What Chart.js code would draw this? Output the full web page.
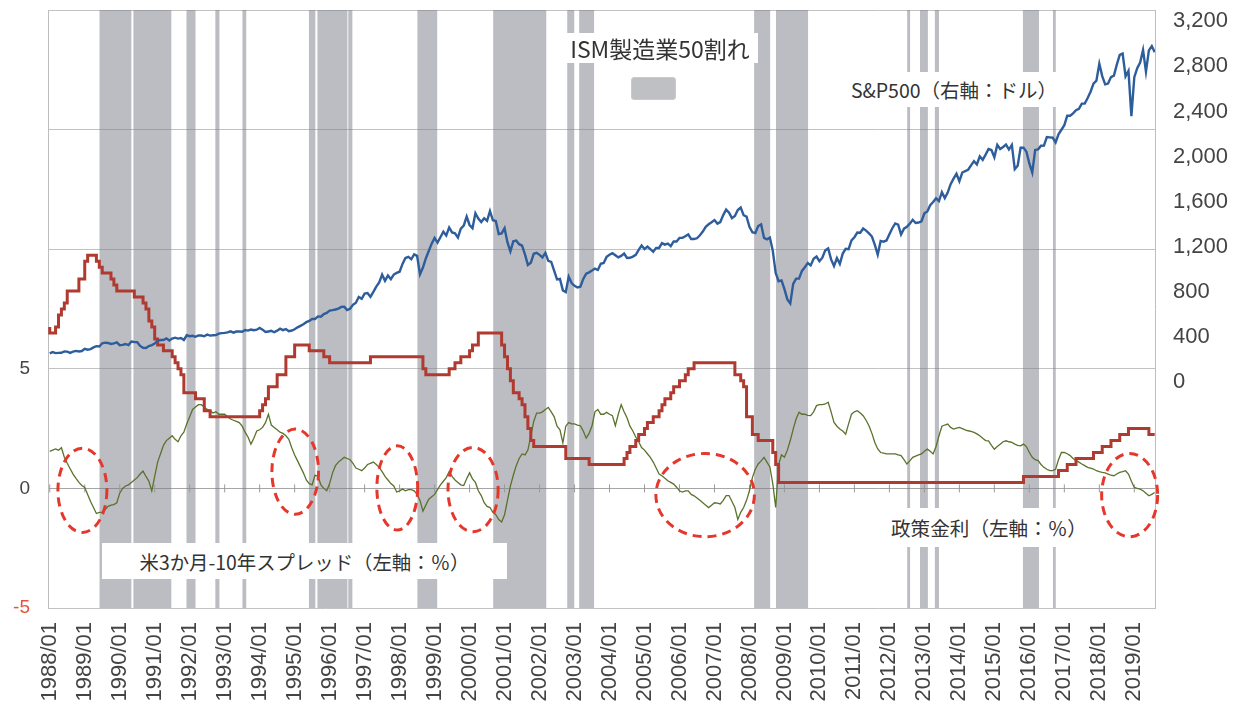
<!DOCTYPE html>
<html><head><meta charset="utf-8">
<script src="https://cdn.jsdelivr.net/npm/chart.js@4.4.1/dist/chart.umd.min.js"></script>
<style>
html,body{margin:0;padding:0;background:#fff;}
#wrap{position:relative;width:1239px;height:712px;overflow:hidden;}
#c{position:absolute;left:0;top:0;}
.lbl{position:absolute;background:#fff;display:flex;align-items:center;justify-content:center;font-family:"Noto Sans CJK JP","Noto Sans",sans-serif;color:#333;white-space:nowrap;}
#sw{position:absolute;left:631px;top:77px;width:43px;height:21px;background:#bfc0c4;border:1px solid #c9cace;border-radius:3px;}
</style></head>
<body>
<div id="wrap">
<canvas id="c" width="1239" height="712"></canvas>
<div class="lbl" style="left:562px;top:33px;width:196px;height:30px;font-size:23px;">ISM製造業50割れ</div>
<div id="sw"></div>
<div class="lbl" style="left:848px;top:72px;width:212px;height:35px;font-size:19.5px;">S&amp;P500（右軸：ドル）</div>
<div class="lbl" style="left:102px;top:543px;width:405px;height:36px;font-size:19.4px;">米3か月-10年スプレッド（左軸：％）</div>
<div class="lbl" style="left:880px;top:508px;width:218px;height:39px;font-size:19.6px;">政策金利（左軸：％）</div>
</div>
<script>
// ---- tick labels ----
const yearLabels = ["1988/01","1989/01","1990/01","1991/01","1992/01","1993/01","1994/01","1995/01","1996/01","1997/01","1998/01","1999/01","2000/01","2001/01","2002/01","2003/01","2004/01","2005/01","2006/01","2007/01","2008/01","2009/01","2010/01","2011/01","2012/01","2013/01","2014/01","2015/01","2016/01","2017/01","2018/01","2019/01"];
const yearTickMonths = [0,12,24,36,48,60,72,84,96,108,120,132,144,156,168,180,192,204,216,228,240,252,264,276,288,300,312,324,336,348,360,372];
const leftTickValues = [-5,0,5,10,15,20];
const leftTickLabels = ["-5","0","5","","",""];
const rightTickValues = [-2000,-1600,-1200,-800,-400,0,400,800,1200,1600,2000,2400,2800,3200];
const rightTickLabels = ["","","","","","0","400","800","1,200","1,600","2,000","2,400","2,800","3,200"];

// ---- S&P500 (monthly, USD, right axis), 1988/01 .. 2019/08 ----
const spx = [
257.07,267.82,258.89,261.33,262.16,273.50,272.02,261.52,271.91,278.97,273.70,277.72,
297.47,288.86,294.87,309.64,320.52,317.98,346.08,351.45,349.15,340.36,345.99,353.40,
329.08,331.89,339.94,330.80,361.23,358.02,356.15,322.56,306.05,304.00,322.22,330.22,
343.93,367.07,375.22,375.34,389.83,371.16,387.81,395.43,387.86,392.46,375.22,417.09,
408.79,412.70,403.69,414.95,415.35,408.14,424.21,414.03,417.80,418.68,431.35,435.71,
438.78,443.38,451.67,440.19,450.19,450.53,448.13,463.56,458.93,467.83,461.79,466.45,
481.61,467.14,445.77,450.91,456.50,444.27,458.26,475.49,462.69,472.35,453.69,459.27,
470.42,487.39,500.71,514.71,533.40,544.75,562.06,561.88,584.41,581.50,605.37,615.93,
636.02,640.43,645.50,654.17,669.12,670.63,639.95,651.99,687.31,705.27,757.02,740.74,
786.16,790.82,757.12,801.34,848.28,885.14,954.29,899.47,947.28,914.62,955.40,970.43,
980.28,1049.34,1101.75,1111.75,1090.82,1133.84,1120.67,957.28,1017.01,1098.67,1163.63,1229.23,
1279.64,1238.33,1286.37,1335.18,1301.84,1372.71,1328.72,1320.41,1282.71,1362.93,1388.91,1469.25,
1394.46,1366.42,1498.58,1452.43,1420.60,1454.60,1430.83,1517.68,1436.51,1429.40,1314.95,1320.28,
1366.01,1239.94,1160.33,1249.46,1255.82,1224.42,1211.23,1133.58,1040.94,1059.78,1139.45,1148.08,
1130.20,1106.73,1147.39,1076.92,1067.14,989.82,911.62,916.07,815.28,800.00,936.31,879.82,
855.70,841.15,848.18,916.92,963.59,974.50,990.31,1008.01,995.97,1050.71,1058.20,1111.92,
1131.13,1144.94,1126.21,1107.30,1120.68,1140.84,1101.72,1104.24,1114.58,1130.20,1173.82,1211.92,
1181.27,1203.60,1180.59,1156.85,1191.50,1191.33,1234.18,1220.33,1228.81,1207.01,1249.48,1248.29,
1280.08,1280.66,1294.87,1310.61,1270.09,1270.20,1276.66,1303.82,1335.85,1377.94,1400.63,1418.30,
1438.24,1406.82,1420.86,1482.37,1530.62,1503.35,1455.27,1473.99,1526.75,1549.38,1481.14,1468.36,
1378.55,1330.63,1322.70,1385.59,1400.38,1280.00,1267.38,1282.83,1166.36,968.75,896.24,903.25,
825.88,735.09,700.00,872.81,919.14,919.32,987.48,1020.62,1057.08,1036.19,1095.63,1115.10,
1073.87,1104.49,1169.43,1186.69,1089.41,1030.71,1101.60,1049.33,1141.20,1183.26,1180.55,1257.64,
1286.12,1327.22,1325.83,1363.61,1345.20,1320.64,1292.28,1218.89,1131.42,1253.30,1246.96,1257.60,
1312.41,1365.68,1408.47,1397.91,1310.33,1362.16,1379.32,1406.58,1440.67,1412.16,1416.18,1426.19,
1498.11,1514.68,1569.19,1597.57,1630.74,1606.28,1685.73,1632.97,1681.55,1756.54,1805.81,1848.36,
1782.59,1859.45,1872.34,1883.95,1923.57,1960.23,1930.67,2003.37,1972.29,2018.05,2067.56,2058.90,
1994.99,2104.50,2067.89,2085.51,2107.39,2063.11,2103.84,1890.00,1920.03,2079.36,2080.41,2043.94,
1940.24,1860.00,2059.74,2065.30,2096.95,2098.86,2173.60,2170.95,2168.27,2126.15,2198.81,2238.83,
2278.87,2363.64,2362.72,2384.20,2411.80,2423.41,2470.30,2471.65,2519.36,2575.26,2647.58,2673.61,
2823.81,2713.83,2640.87,2648.05,2705.27,2718.37,2816.29,2901.52,2913.98,2711.74,2760.17,2360.00,
2704.10,2784.49,2834.40,2945.83,2752.06,2941.76,2980.38,2926.46
];

// ---- US policy rate (%, left axis) ----
const fedRate = [
6.75,6.5,6.5,6.75,7.25,7.5,7.75,8.25,8.25,8.25,8.25,8.75,
8.75,9.5,9.75,9.75,9.75,9.5,9.25,9.0,9.0,9.0,8.75,8.5,
8.25,8.25,8.25,8.25,8.25,8.25,8.0,8.0,8.0,7.75,7.5,7.0,
6.75,6.25,6.0,6.0,5.75,5.75,5.75,5.5,5.25,5.0,4.75,4.0,
4.0,4.0,4.0,3.75,3.75,3.75,3.25,3.25,3.0,3.0,3.0,3.0,
3.0,3.0,3.0,3.0,3.0,3.0,3.0,3.0,3.0,3.0,3.0,3.0,
3.0,3.25,3.5,3.75,4.25,4.25,4.25,4.75,4.75,4.75,5.5,5.5,
5.5,6.0,6.0,6.0,6.0,6.0,5.75,5.75,5.75,5.75,5.75,5.5,
5.5,5.25,5.25,5.25,5.25,5.25,5.25,5.25,5.25,5.25,5.25,5.25,
5.25,5.25,5.25,5.5,5.5,5.5,5.5,5.5,5.5,5.5,5.5,5.5,
5.5,5.5,5.5,5.5,5.5,5.5,5.5,5.5,5.5,5.0,4.75,4.75,
4.75,4.75,4.75,4.75,4.75,4.75,5.0,5.0,5.25,5.25,5.5,5.5,
5.5,5.75,6.0,6.0,6.5,6.5,6.5,6.5,6.5,6.5,6.5,6.5,
6.0,5.5,5.0,4.5,4.0,4.0,3.75,3.5,3.0,2.5,2.0,1.75,
1.75,1.75,1.75,1.75,1.75,1.75,1.75,1.75,1.75,1.75,1.25,1.25,
1.25,1.25,1.25,1.25,1.25,1.25,1.0,1.0,1.0,1.0,1.0,1.0,
1.0,1.0,1.0,1.0,1.0,1.0,1.25,1.5,1.75,1.75,2.0,2.25,
2.25,2.5,2.75,2.75,3.0,3.0,3.25,3.5,3.75,3.75,4.0,4.25,
4.25,4.5,4.5,4.75,5.0,5.0,5.25,5.25,5.25,5.25,5.25,5.25,
5.25,5.25,5.25,5.25,5.25,5.25,5.25,5.25,4.75,4.75,4.5,4.25,
3.0,3.0,2.25,2.25,2.0,2.0,2.0,2.0,2.0,1.5,1.0,0.25,
0.25,0.25,0.25,0.25,0.25,0.25,0.25,0.25,0.25,0.25,0.25,0.25,
0.25,0.25,0.25,0.25,0.25,0.25,0.25,0.25,0.25,0.25,0.25,0.25,
0.25,0.25,0.25,0.25,0.25,0.25,0.25,0.25,0.25,0.25,0.25,0.25,
0.25,0.25,0.25,0.25,0.25,0.25,0.25,0.25,0.25,0.25,0.25,0.25,
0.25,0.25,0.25,0.25,0.25,0.25,0.25,0.25,0.25,0.25,0.25,0.25,
0.25,0.25,0.25,0.25,0.25,0.25,0.25,0.25,0.25,0.25,0.25,0.25,
0.25,0.25,0.25,0.25,0.25,0.25,0.25,0.25,0.25,0.25,0.25,0.5,
0.5,0.5,0.5,0.5,0.5,0.5,0.5,0.5,0.5,0.5,0.5,0.75,
0.75,0.75,1.0,1.0,1.0,1.25,1.25,1.25,1.25,1.25,1.25,1.5,
1.5,1.5,1.75,1.75,1.75,2.0,2.0,2.0,2.25,2.25,2.25,2.5,
2.5,2.5,2.5,2.5,2.5,2.5,2.25,2.25
];

// ---- US 3m-10y spread (%, left axis) ----
const spread = [
1.55,1.6,1.65,1.6,1.7,1.3,1.05,0.82,0.6,0.42,0.25,0.12,
0.04,-0.25,-0.55,-0.8,-1.05,-1.0,-1.0,-0.88,-0.75,-0.7,-0.68,-0.6,
-0.2,0.0,0.1,0.15,0.25,0.35,0.45,0.6,0.72,0.5,0.3,-0.1,
0.5,1.1,1.45,1.8,2.0,2.1,2.2,2.05,1.95,2.2,2.35,2.7,
3.0,3.3,3.4,3.5,3.5,3.4,3.3,3.25,3.15,3.2,3.1,3.1,
3.1,3.0,2.9,2.85,2.8,2.75,2.6,2.35,2.15,1.85,2.1,2.4,
2.45,2.55,2.75,3.1,2.65,2.55,2.45,2.35,2.3,2.2,2.05,1.7,
1.4,1.15,0.9,0.65,0.35,0.2,0.15,0.55,0.5,0.15,0.0,-0.1,
0.2,0.65,0.95,1.1,1.2,1.3,1.25,1.2,1.05,0.85,0.8,0.74,
0.85,1.0,1.05,1.1,1.0,0.88,0.7,0.5,0.35,0.2,0.1,-0.15,
-0.1,-0.03,-0.1,-0.05,-0.05,-0.1,-0.25,-0.5,-0.95,-0.7,-0.45,-0.35,
-0.25,-0.05,0.15,0.3,0.45,0.7,0.5,0.35,0.25,0.15,0.12,0.4,
0.65,0.4,0.25,-0.1,-0.3,-0.6,-0.75,-0.8,-1.0,-1.1,-1.3,-1.4,
-1.1,-0.5,0.1,0.55,0.95,1.25,1.44,1.4,1.6,2.2,2.8,3.15,
3.15,3.2,3.3,3.39,3.2,3.0,2.6,2.45,1.9,2.6,2.75,2.7,
2.7,2.65,2.62,2.4,2.1,2.3,2.62,3.2,3.3,3.1,3.1,3.18,
3.1,3.04,2.62,3.1,3.5,3.2,2.95,2.6,2.4,2.15,1.95,1.71,
1.6,1.45,1.3,1.1,0.85,0.6,0.53,0.42,0.32,0.25,0.18,0.05,
-0.1,-0.15,-0.1,-0.1,-0.25,-0.31,-0.4,-0.5,-0.6,-0.7,-0.8,-0.7,
-0.6,-0.62,-0.65,-0.5,-0.3,-0.3,-0.55,-0.8,-1.3,-1.0,-0.8,-0.5,
-0.1,0.45,0.8,1.02,1.15,1.3,1.1,0.9,0.2,-0.8,1.0,1.4,
1.3,1.6,2.0,2.48,2.9,3.18,3.1,3.1,3.05,3.04,3.2,3.46,
3.5,3.5,3.53,3.6,3.2,2.76,2.6,2.48,2.4,2.27,2.7,3.1,
3.2,3.25,3.15,3.04,2.85,2.62,2.3,1.92,1.65,1.5,1.47,1.44,
1.44,1.44,1.44,1.4,1.37,1.2,1.02,1.15,1.3,1.35,1.4,1.44,
1.55,1.64,1.55,1.44,1.75,2.2,2.6,2.65,2.69,2.55,2.48,2.52,
2.55,2.5,2.45,2.41,2.38,2.34,2.28,2.2,2.1,2.0,1.99,1.8,
1.64,1.75,1.85,1.95,1.99,1.95,1.92,1.85,1.8,1.78,1.85,1.75,
1.5,1.3,1.2,1.16,1.0,0.88,0.8,0.74,0.74,0.8,1.2,1.5,
1.5,1.45,1.37,1.25,1.16,1.1,1.02,0.95,0.88,0.85,0.81,0.74,
0.7,0.67,0.65,0.6,0.55,0.53,0.6,0.67,0.7,0.74,0.6,0.3,
0.04,0.0,-0.03,-0.1,-0.2,-0.31,-0.25,-0.17
];

// ---- ISM manufacturing below 50 periods (months since 1988/01) ----
const ismBandStart = [17.0,28.7,46.9,56.8,66.1,88.9,91.8,102.4,126.1,152.1,177.5,181.6,241.6,249.1,294.1,298.5,303.6,333.8,344.1];
const ismBandEnd   = [28.0,41.7,50.0,58.2,67.4,91.1,102.1,103.8,132.9,170.3,179.9,186.7,247.1,260.1,295.1,301.2,305.0,339.3,345.1];

// ---- highlighted regions (red dashed ellipses) ----
const ellCenterMonth = [11.2,84.2,119.2,145.2,224.8,370.4];
const ellCenterValue = [-0.08,0.70,0.02,-0.05,-0.28,-0.28];
const ellRadiusMonth = [8.4,8.0,7.0,8.6,16.9,9.6];
const ellRadiusValue = [1.76,1.78,1.76,1.76,1.74,1.74];

// ---- axis ranges ----
const LEFT_MIN = -5, LEFT_MAX = 20;
const RIGHT_MIN = -2000, RIGHT_MAX = 3300;
const X_MIN = -0.6, X_MAX = 379.1;

const toXY = arr => arr.map((v, i) => ({x: i, y: v}));
const bandPoints = [];
ismBandStart.forEach((s, i) => {
  const e = ismBandEnd[i];
  bandPoints.push({x: s, y: LEFT_MIN}, {x: s, y: LEFT_MAX}, {x: e, y: LEFT_MAX}, {x: e, y: LEFT_MIN});
});

const ellipsePlugin = {
  id: 'ellipses',
  afterDatasetsDraw(chart) {
    const xs = chart.scales.x, ys = chart.scales.y, ctx = chart.ctx;
    ctx.save();
    ctx.strokeStyle = '#e5372c';
    ctx.lineWidth = 3;
    ctx.setLineDash([9, 6]);
    for (let i = 0; i < ellCenterMonth.length; i++) {
      const cx = xs.getPixelForValue(ellCenterMonth[i]);
      const cy = ys.getPixelForValue(ellCenterValue[i]);
      const rx = Math.abs(xs.getPixelForValue(ellCenterMonth[i] + ellRadiusMonth[i]) - cx);
      const ry = Math.abs(ys.getPixelForValue(ellCenterValue[i] + ellRadiusValue[i]) - cy);
      ctx.beginPath();
      ctx.ellipse(cx, cy, rx, ry, 0, 0, Math.PI * 2);
      ctx.stroke();
    }
    ctx.restore();
  }
};

const noPad = s => { s.paddingTop = 0; s.paddingBottom = 0; s.paddingLeft = 0; s.paddingRight = 0; };

Chart.defaults.font.family = '"Liberation Sans", Arial, sans-serif';

new Chart(document.getElementById('c'), {
  type: 'line',
  data: {
    datasets: [
      {label: 'S&P500', data: toXY(spx), yAxisID: 'y1', borderColor: '#2e5d9c', borderWidth: 2.4, pointRadius: 0, order: 1},
      {label: '政策金利', data: toXY(fedRate), yAxisID: 'y', borderColor: '#b03a30', borderWidth: 3, pointRadius: 0, stepped: 'after', order: 2},
      {label: 'スプレッド', data: toXY(spread), yAxisID: 'y', borderColor: '#5a722c', borderWidth: 1.3, pointRadius: 0, order: 3},
      {label: 'zeroTicks', data: yearTickMonths.map(m => ({x: m, y: 0})), yAxisID: 'y', showLine: false,
        pointStyle: 'line', rotation: 90, pointRadius: 4, borderColor: '#9a9a9a', borderWidth: 1, order: 9},
      {label: 'ISM', data: bandPoints, yAxisID: 'y', fill: 'start', backgroundColor: 'rgba(122,124,133,0.5)',
        borderWidth: 0, borderColor: 'rgba(0,0,0,0)', pointRadius: 0, order: 10}
    ]
  },
  options: {
    responsive: false,
    animation: false,
    devicePixelRatio: 1,
    layout: {padding: {top: 10, left: 0, right: 0, bottom: 0}},
    plugins: {legend: {display: false}, tooltip: {enabled: false}},
    elements: {line: {tension: 0}},
    scales: {
      x: {
        type: 'linear', min: X_MIN, max: X_MAX,
        afterBuildTicks: s => { s.ticks = yearTickMonths.map(v => ({value: v})); },
        afterFit: s => { s.height = 104; noPad(s); },
        ticks: {
          autoSkip: false, maxRotation: 90, minRotation: 90, padding: 14,
          color: '#444', font: {size: 22},
          callback: (v, i) => yearLabels[i]
        },
        grid: {display: false, drawTicks: false},
        border: {display: false}
      },
      y: {
        position: 'left', min: LEFT_MIN, max: LEFT_MAX,
        afterBuildTicks: s => { s.ticks = leftTickValues.map(v => ({value: v})); },
        afterFit: s => { s.width = 48; noPad(s); },
        ticks: {
          padding: 18, font: {size: 19},
          color: c => c.tick && c.tick.value === LEFT_MIN ? '#e2553f' : '#444',
          callback: (v, i) => leftTickLabels[i]
        },
        grid: {drawTicks: false, color: c => (c.tick && c.tick.value === 0 ? '#a6a6a6' : '#c2c2c2'), lineWidth: 1},
        border: {display: true, color: '#bdbdbd'}
      },
      y1: {
        position: 'right', min: RIGHT_MIN, max: RIGHT_MAX,
        afterBuildTicks: s => { s.ticks = rightTickValues.map(v => ({value: v})); },
        afterFit: s => { s.width = 84; noPad(s); },
        ticks: {
          padding: 18, font: {size: 22}, color: '#444',
          callback: (v, i) => rightTickLabels[i]
        },
        grid: {drawOnChartArea: false, drawTicks: false},
        border: {display: true, color: '#bdbdbd'}
      }
    }
  },
  plugins: [ellipsePlugin]
});
</script>
</body></html>
